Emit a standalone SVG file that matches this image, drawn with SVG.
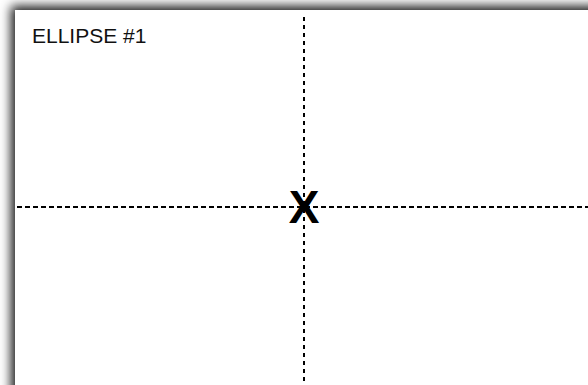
<svg xmlns="http://www.w3.org/2000/svg" width="588" height="385" viewBox="0 0 588 385">
  <style>
    .guide { stroke: #000; stroke-width: 2; fill: none; }
    .label { font-family: "Liberation Sans", Arial, sans-serif; font-size: 21px; fill: #111; }
    .mark { font-family: "Liberation Sans", Arial, sans-serif; font-size: 46px; font-weight: bold; fill: #000; }
  </style>
  <defs>
    <filter id="shadow" x="-10%" y="-10%" width="120%" height="120%">
      <feDropShadow dx="-4" dy="-4" stdDeviation="5.5" flood-color="#000" flood-opacity="0.9"/>
    </filter>
  </defs>
  <rect x="0" y="0" width="588" height="385" fill="#fff"/>
  <g id="ellipse1">
    <rect x="15" y="10" width="620" height="420" fill="#fff" filter="url(#shadow)"/>
    <text class="label" x="32" y="43">ELLIPSE #1</text>
  </g>
  <g id="connectors">
    <line class="guide" x1="304" y1="17" x2="304" y2="385" stroke-dasharray="4 4"/>
    <line class="guide" x1="17" y1="207" x2="588" y2="207" stroke-dasharray="5 3"/>
  </g>
  <g id="center">
    <text class="mark" x="304" y="223" text-anchor="middle">X</text>
  </g>
</svg>
